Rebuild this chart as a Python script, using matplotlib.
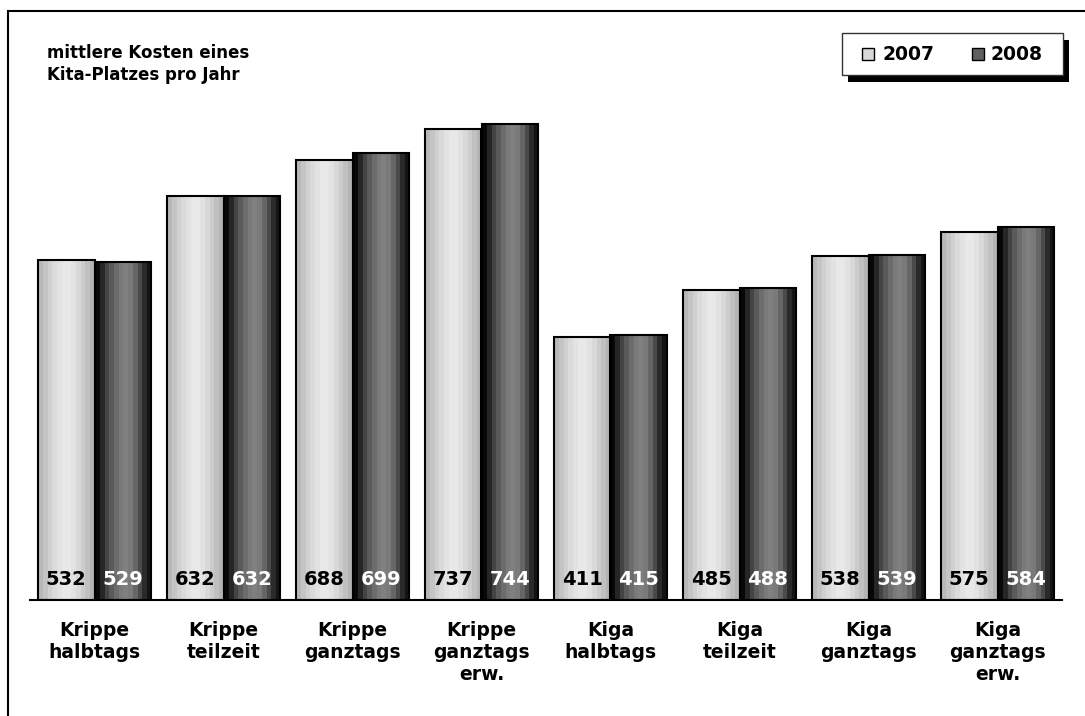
import numpy as np
import matplotlib.pyplot as plt
from matplotlib.colors import ListedColormap
from matplotlib.patches import Rectangle
from matplotlib.transforms import blended_transform_factory

plt.rcParams['font.family'] = ['DejaVu Sans']

categories = ["Krippe\nhalbtags", "Krippe\nteilzeit", "Krippe\nganztags", "Krippe\nganztags\nerw.",
              "Kiga\nhalbtags", "Kiga\nteilzeit", "Kiga\nganztags", "Kiga\nganztags\nerw."]
costs_2007 = [532, 632, 688, 737, 411, 485, 538, 575]
costs_2008 = [529, 632, 699, 744, 415, 488, 539, 584]
years = ["2007", "2008"]

W, H = 1085, 716
fig = plt.figure(figsize=(W / 100, H / 100), dpi=100)
ax = fig.add_axes([30 / W, 1 - 600 / H, 1032 / W, 560 / H])

# banded grey shading like the old excel cylinder look
light = ListedColormap(['#b8b8b8', '#c4c4c4', '#d0d0d0', '#dadada', '#e2e2e2', '#e8e8e8',
                        '#e8e8e8', '#e2e2e2', '#d8d8d8', '#cccccc', '#c0c0c0', '#b4b4b4'])
dark = ListedColormap(['#080808', '#262626', '#444444', '#5a5a5a', '#6c6c6c', '#7a7a7a',
                       '#808080', '#7a7a7a', '#666666', '#4a4a4a', '#2a2a2a', '#141414'])

x = np.arange(len(categories))
bw = 0.44
band = np.linspace(0, 1, 256).reshape(1, -1)


def gradient_bars(xs, vals, cmap):
    bars = ax.bar(xs, vals, bw, facecolor='none', edgecolor='black', linewidth=1.5, zorder=3)
    for b in bars:
        im = ax.imshow(band, extent=[b.get_x(), b.get_x() + b.get_width(), 0, b.get_height()],
                       aspect='auto', cmap=cmap, zorder=2, interpolation='nearest')
        im.set_clip_path(b)
    return bars


gradient_bars(x - bw / 2, costs_2007, light)
gradient_bars(x + bw / 2, costs_2008, dark)

lab_tr = blended_transform_factory(ax.transData, ax.transAxes)
for i in range(len(categories)):
    ax.text(x[i] - bw / 2, 0.037, str(costs_2007[i]), transform=lab_tr, ha='center', va='center',
            fontsize=14, fontweight='bold', color='black', zorder=4)
    ax.text(x[i] + bw / 2, 0.037, str(costs_2008[i]), transform=lab_tr, ha='center', va='center',
            fontsize=14, fontweight='bold', color='white', zorder=4)

ax.set_xlim(-0.5, 7.5)
ax.set_ylim(0, 876)
ax.set_xticks(x, categories, fontsize=13.5, fontweight='bold', linespacing=1.2)
ax.tick_params(axis='x', length=0, pad=15)
ax.set_yticks([])
for s in ['top', 'right', 'left']:
    ax.spines[s].set_visible(False)
ax.spines['bottom'].set_linewidth(1.5)
ax.spines['bottom'].set_zorder(5)

# outer frame (only left and top edge are inside the picture)
fig.add_artist(Rectangle((8 / W, -0.1), 1.2, 1.1 - 11 / H, transform=fig.transFigure,
                         fill=False, edgecolor='black', linewidth=1.5))

fig.text(47 / W, 1 - 44 / H, "mittlere Kosten eines\nKita-Platzes pro Jahr", fontsize=12,
         fontweight='bold', va='top', ha='left', linespacing=1.3)

# legend box with hard shadow
def fbox(x0, y0, x1, y1, **kw):
    return Rectangle((x0 / W, 1 - y1 / H), (x1 - x0) / W, (y1 - y0) / H,
                     transform=fig.transFigure, **kw)


fig.add_artist(fbox(848, 40, 1069, 82, facecolor='black', edgecolor='none'))
fig.add_artist(fbox(842, 33, 1063, 75, facecolor='white', edgecolor='#333333', linewidth=1))
fig.add_artist(fbox(862, 48, 874, 60, facecolor='#d8d8d8', edgecolor='black', linewidth=1))
fig.add_artist(fbox(972, 48, 984, 60, facecolor='#606060', edgecolor='black', linewidth=1))
fig.text(882 / W, 1 - 54 / H, years[0], fontsize=13.5, fontweight='bold', va='center')
fig.text(991 / W, 1 - 54 / H, years[1], fontsize=13.5, fontweight='bold', va='center')

fig.savefig('out.png', dpi=100)
